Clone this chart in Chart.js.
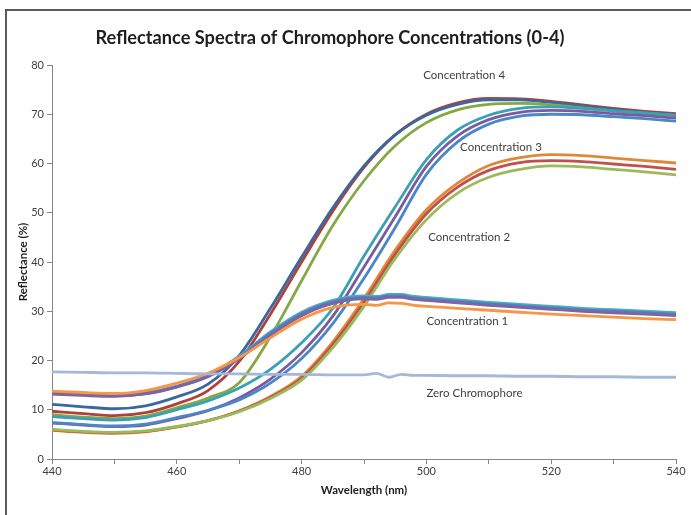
<!DOCTYPE html>
<html>
<head>
<meta charset="utf-8">
<script src="https://cdn.jsdelivr.net/npm/chart.js@4"></script>
<style>
  html, body { margin: 0; padding: 0; background: #fff; overflow: hidden; }
  #wrap { position: relative; width: 691px; height: 515px; }
  #frame { position: absolute; left: 5px; top: 9px; width: 720px; height: 540px; border: 2px solid #5a5a5a; }
  canvas { position: absolute; left: 0; top: 0; }
</style>
</head>
<body>
<div id="wrap">
  <div id="frame"></div>
  <canvas id="chart" width="691" height="515"></canvas>
</div>
<script>
// wavelength grids (nm)
const wavelengths = [440,445,450,455,460,465,470,475,480,485,490,495,500,505,510,515,520,525,530,535,540];
const wavelengthsFine = [440,445,450,455,460,465,470,475,480,485,490,492,494,496,498,500,505,510,515,520,525,530,535,540];

// Concentration 4
const conc4Blue  = [11.1,10.6,10.2,10.8,12.6,15.2,21.0,30.6,41.0,51.0,59.5,65.8,69.8,72.0,72.9,72.9,72.4,71.7,71.0,70.4,69.9];
const conc4Red   = [9.7,9.2,8.8,9.4,11.2,13.9,19.8,29.4,40.0,50.3,59.2,65.8,70.0,72.3,73.2,73.1,72.6,71.9,71.2,70.6,70.1];
const conc4Green = [9.0,8.5,8.2,8.7,10.4,12.4,15.5,24.8,36.2,47.4,56.5,63.6,68.3,70.9,72.0,72.2,71.9,71.3,70.7,70.2,69.7];

// Concentration 3
const conc3Aqua   = [8.6,8.2,7.9,8.4,10.0,11.8,14.4,18.2,23.6,30.6,41.2,51.2,60.8,66.8,69.8,71.2,71.5,71.2,70.7,70.3,69.8];
const conc3Purple = [7.3,6.9,6.6,6.9,8.2,9.8,12.4,16.2,21.6,29.0,39.0,49.2,59.4,65.6,68.9,70.4,70.8,70.6,70.1,69.7,69.2];
const conc3Blue   = [7.4,7.0,6.7,7.1,8.4,9.9,12.0,15.4,20.4,27.5,36.7,47.0,57.8,64.4,68.0,69.6,70.0,69.9,69.5,69.1,68.6];

// Concentration 2
const conc2Orange = [5.8,5.4,5.2,5.5,6.5,7.8,9.8,12.7,16.8,23.8,32.6,42.4,50.6,56.0,59.6,61.2,61.8,61.6,61.1,60.6,60.1];
const conc2Red    = [5.9,5.5,5.3,5.6,6.5,7.8,9.7,12.5,16.4,23.2,31.8,41.6,49.8,55.2,58.6,60.2,60.6,60.4,59.9,59.4,58.8];
const conc2Green  = [6.0,5.6,5.4,5.7,6.6,7.8,9.6,12.3,16.0,22.6,31.0,40.7,48.6,54.0,57.2,58.8,59.5,59.3,58.8,58.3,57.7];

// Concentration 1 (fine grid)
const conc1Aqua   = [13.4,13.1,12.9,13.4,14.8,17.0,20.9,25.8,29.8,32.2,33.1,33.0,33.4,33.4,33.0,32.8,32.3,31.8,31.4,31.0,30.6,30.3,30.0,29.7];
const conc1Blue   = [13.3,13.0,12.8,13.3,14.7,16.9,20.7,25.5,29.5,31.9,32.8,32.7,33.1,33.1,32.7,32.5,32.0,31.5,31.1,30.7,30.3,30.0,29.7,29.4];
const conc1Purple = [13.2,12.9,12.7,13.2,14.6,16.7,20.4,25.1,29.1,31.6,32.5,32.4,32.8,32.8,32.4,32.2,31.7,31.2,30.8,30.4,30.0,29.7,29.4,29.1];
const conc1Orange = [13.8,13.5,13.3,13.9,15.4,17.4,20.6,24.6,28.4,30.8,31.4,31.2,31.7,31.6,31.2,31.0,30.6,30.2,29.8,29.4,29.1,28.8,28.5,28.3];

// Zero chromophore (fine grid)
const zeroChromophore = [17.7,17.6,17.5,17.5,17.4,17.3,17.3,17.2,17.2,17.1,17.1,17.4,16.6,17.2,17.0,17.0,16.9,16.9,16.8,16.8,16.7,16.7,16.6,16.6];

const groupLabels = [
  { text: 'Concentration 4', x: 499.5, y: 78 },
  { text: 'Concentration 3', x: 505.4, y: 63.3 },
  { text: 'Concentration 2', x: 500.3, y: 45 },
  { text: 'Concentration 1', x: 500, y: 28 },
  { text: 'Zero Chromophore', x: 500, y: 13.3 }
];

function series(label, xs, ys, color) {
  return {
    label: label,
    data: xs.map((x, i) => ({ x: x, y: ys[i] })),
    borderColor: color,
    backgroundColor: color,
    borderWidth: 2.8,
    pointRadius: 0,
    cubicInterpolationMode: 'monotone',
    fill: false
  };
}

const datasets = [
  series('Zero', wavelengthsFine, zeroChromophore, '#a6b8d8'),
  series('C1 orange', wavelengthsFine, conc1Orange, '#f79646'),
  series('C1 purple', wavelengthsFine, conc1Purple, '#8064a2'),
  series('C1 blue', wavelengthsFine, conc1Blue, '#4f81bd'),
  series('C1 aqua', wavelengthsFine, conc1Aqua, '#4bacc6'),
  series('C2 green', wavelengths, conc2Green, '#9bbb59'),
  series('C2 red', wavelengths, conc2Red, '#c0504d'),
  series('C2 orange', wavelengths, conc2Orange, '#e0883a'),
  series('C3 blue', wavelengths, conc3Blue, '#4a86c8'),
  series('C3 purple', wavelengths, conc3Purple, '#7a5c9e'),
  series('C3 aqua', wavelengths, conc3Aqua, '#3aa0b6'),
  series('C4 green', wavelengths, conc4Green, '#85a843'),
  series('C4 blue', wavelengths, conc4Blue, '#3a689d'),
  series('C4 red', wavelengths, conc4Red, '#b0403e')
];

// title + group labels drawn on the canvas
const textPlugin = {
  id: 'texts',
  afterDraw(chart) {
    const ctx = chart.ctx;
    const xs = chart.scales.x, ys = chart.scales.y;
    ctx.save();
    ctx.fillStyle = '#1e1e1e';
    ctx.font = 'bold 18.2px Lato';
    ctx.textAlign = 'center';
    ctx.textBaseline = 'middle';
    ctx.fillText('Reflectance Spectra of Chromophore Concentrations (0-4)', 330, 38);
    ctx.fillStyle = '#404040';
    ctx.font = '11.5px Lato';
    ctx.textAlign = 'left';
    groupLabels.forEach(l => {
      ctx.fillText(l.text, xs.getPixelForValue(l.x), ys.getPixelForValue(l.y));
    });
    ctx.restore();
  }
};

const axisColor = '#868686';

new Chart(document.getElementById('chart'), {
  type: 'line',
  data: { datasets: datasets },
  options: {
    responsive: false,
    animation: false,
    layout: { padding: { top: 65, right: 15, bottom: 14, left: 12 } },
    plugins: { legend: { display: false }, tooltip: { enabled: false } },
    scales: {
      x: {
        type: 'linear',
        min: 440,
        max: 540,
        ticks: {
          stepSize: 10,
          color: '#404040',
          font: { family: 'Lato', size: 11 },
          maxRotation: 0,
          padding: 1,
          callback: v => (v % 20 === 0 ? v : '')
        },
        grid: { drawOnChartArea: false, tickLength: 5, color: axisColor },
        border: { color: axisColor },
        title: { display: true, text: 'Wavelength (nm)', color: '#1e1e1e', font: { family: 'Lato', size: 11.5, weight: 'bold' }, padding: { top: 4, bottom: 4 } }
      },
      y: {
        min: 0,
        max: 80,
        afterFit: s => { s.width = 40; },
        ticks: { stepSize: 10, color: '#404040', font: { family: 'Lato', size: 11 }, padding: 3 },
        grid: { drawOnChartArea: false, tickLength: 5, color: axisColor },
        border: { color: axisColor },
        title: { display: true, text: 'Reflectance (%)', color: '#1e1e1e', font: { family: 'Lato', size: 11.5, weight: 'bold' }, padding: { top: 4, bottom: 4 } }
      }
    }
  },
  plugins: [textPlugin]
});
</script>
</body>
</html>
